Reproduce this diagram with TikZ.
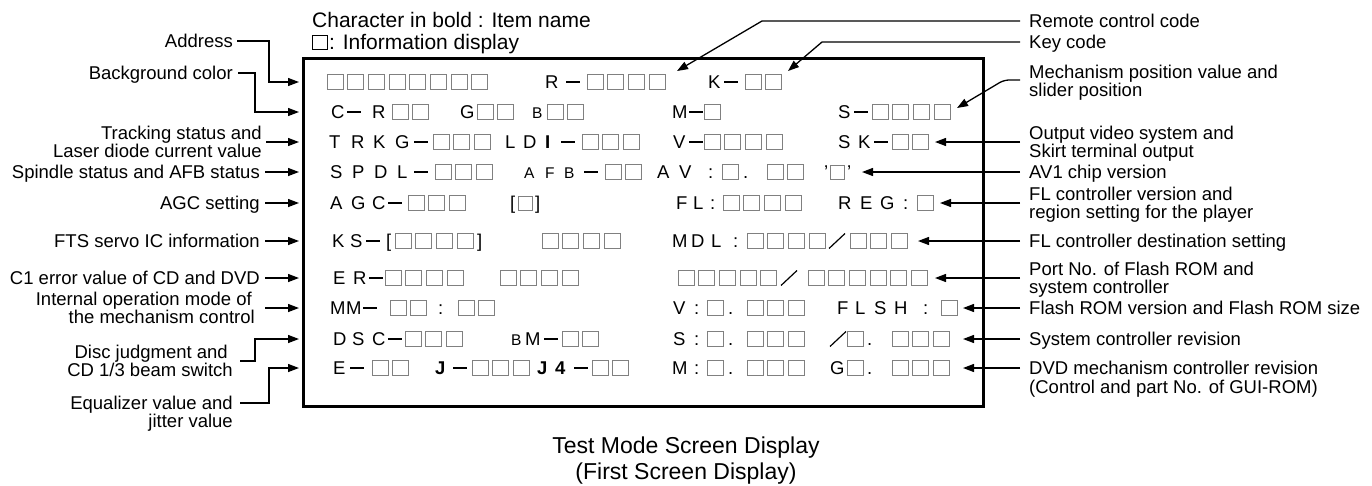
\documentclass[tikz,border=0pt]{standalone}
\usepackage{fontspec}
\setmainfont{Liberation Sans}
\usetikzlibrary{arrows.meta}
\definecolor{sqgray}{gray}{0.5}
\newcount\tkn
\newcommand\scrT[4][scr]{\global\advance\tkn by 1\relax\node[#1] (tk\the\tkn) at (#2,{#3+6.6}) {#4};}
\newcommand\scrQ[3]{\foreach \k in {1,...,#3}{\draw[sqst] ({#1+(\k-1)*20.7},{#2-7.5}) rectangle ++(16,15);}}
\newcommand\scrQs[2]{\draw[sqst] ({#1},{#2-7}) rectangle ++(14,14);}
\newcommand\scrD[2]{\fill ({#1},{#2-1}) rectangle ++(14,2);}
\newcommand\scrS[2]{\draw[line width=1.2pt] ({#1},{#2+7.5}) -- ++(16,-15);}
\begin{document}
\begin{tikzpicture}[x=1pt,y=-1pt,
  scr/.style={font=\fontsize{18.5}{20}\selectfont,inner sep=0pt,anchor=base west},
  scrs/.style={scr,font=\fontsize{15.5}{17}\selectfont},
  scrb/.style={scr,font=\fontsize{18.5}{20}\selectfont\bfseries},
  sqst/.style={draw=sqgray,line width=1pt},
  lab/.style={font=\fontsize{18.5}{18}\selectfont,inner sep=0pt},
  labl/.style={lab,anchor=base east},
  labr/.style={lab,anchor=base west},
  arr/.style={line width=1.3pt,-{Triangle[length=11pt,width=8pt]}},
]
\useasboundingbox (0,0) rectangle (1372,485);

% header
\node[font=\fontsize{21}{22}\selectfont,inner sep=0pt,anchor=base west] (h1) at (312,27.5) {Character in bold : Item name};
\draw[line width=0.9pt] (312,35) rectangle (327,49);
\node[font=\fontsize{21}{22}\selectfont,inner sep=0pt,anchor=base west] (h2) at (329,49.5) {: Information display};

% screen box
\node[draw,line width=3pt,minimum width=680pt,minimum height=348pt,anchor=north west,inner sep=0pt] (screen) at (302,57) {};

% left targets
\foreach \n/\yy in {1/82,2/112,3/142,4/172,5/203,6/241,7/278,8/308,9/339,10/368}
  \coordinate (L\n) at (299,\yy);

% ---- screen rows ----
% row 1
\scrQ{327}{82}{8}
\scrT{545}{82}{R} \scrD{566}{82} \scrQ{587}{82}{4}
\scrT{708}{82}{K} \scrD{724}{82} \scrQ{745}{82}{2}
% row 2
\scrT{331}{112}{C} \scrD{347}{112} \scrT{372}{112}{R} \scrQ{392}{112}{2}
\scrT{460}{112}{G} \scrQ{477}{112}{2}
\scrT[scrs]{532}{112}{B} \scrQ{547}{112}{2}
\scrT{672}{112}{M} \scrD{689}{112} \scrQ{704}{112}{1}
\scrT{838}{112}{S} \scrD{854}{112} \scrQ{872}{112}{4}
% row 3
\scrT{329}{142}{T} \scrT{351}{142}{R} \scrT{373}{142}{K} \scrT{395}{142}{G}
\scrD{414}{142} \scrQ{433}{142}{3}
\scrT{505}{142}{L} \scrT{523}{142}{D} \scrT[scrb]{545}{142}{I}
\scrD{561}{142} \scrQ{582}{142}{3}
\scrT{673}{142}{V} \scrD{689}{142} \scrQ{704}{142}{4}
\scrT{838}{142}{S} \scrT{858}{142}{K} \scrD{874}{142} \scrQ{892}{142}{2}
% row 4
\scrT{330}{172}{S} \scrT{352}{172}{P} \scrT{374}{172}{D} \scrT{397}{172}{L}
\scrD{414}{172} \scrQ{435}{172}{3}
\scrT[scrs]{524}{172}{A} \scrT[scrs]{545}{172}{F} \scrT[scrs]{564}{172}{B}
\scrD{584}{172} \scrQ{605}{172}{2}
\scrT{657}{172}{A} \scrT{679}{172}{V} \scrT{708}{172}{:} \scrQ{722}{172}{1}
\scrT{743}{172}{.} \scrQ{767}{172}{2}
\scrT{824}{172}{\textquoteright} \scrQs{830}{172} \scrT{847}{172}{\textquoteright}
% row 5
\scrT{330}{203}{A} \scrT{351}{203}{G} \scrT{372}{203}{C}
\scrD{388}{203} \scrQ{408}{203}{3}
\scrT{510}{203}{[} \scrQs{518}{203} \scrT{535}{203}{]}
\scrT{676}{203}{F} \scrT{693}{203}{L} \scrT{710}{203}{:} \scrQ{723}{203}{4}
\scrT{838}{203}{R} \scrT{860}{203}{E} \scrT{880}{203}{G} \scrT{903}{203}{:} \scrQ{917}{203}{1}
% row 6
\scrT{332}{241}{K} \scrT{350}{241}{S} \scrD{366}{241}
\scrT{386}{241}{[} \scrQ{395}{241}{4} \scrT{477}{241}{]}
\scrQ{542}{241}{4}
\scrT{672}{241}{M} \scrT{691}{241}{D} \scrT{711}{241}{L} \scrT{733}{241}{:}
\scrQ{747}{241}{4} \scrS{829}{241} \scrQ{850}{241}{3}
% row 7
\scrT{333}{278}{E} \scrT{353}{278}{R} \scrD{369}{278} \scrQ{385}{278}{4}
\scrQ{500}{278}{4}
\scrQ{678}{278}{5} \scrS{781}{278} \scrQ{808}{278}{6}
% row 8
\scrT{330}{308}{M} \scrT{346}{308}{M} \scrD{363}{308} \scrQ{390}{308}{2}
\scrT{438}{308}{:} \scrQ{458}{308}{2}
\scrT{673}{308}{V} \scrT{694}{308}{:} \scrQ{707}{308}{1} \scrT{728}{308}{.} \scrQ{747}{308}{3}
\scrT{837}{308}{F} \scrT{855}{308}{L} \scrT{874}{308}{S} \scrT{894}{308}{H}
\scrT{923}{308}{:} \scrQ{941}{308}{1}
% row 9
\scrT{333}{339}{D} \scrT{352}{339}{S} \scrT{372}{339}{C} \scrD{388}{339} \scrQ{405}{339}{3}
\scrT[scrs]{511}{339}{B} \scrT{525}{339}{M} \scrD{544}{339} \scrQ{562}{339}{2}
\scrT{673}{339}{S} \scrT{694}{339}{:} \scrQ{707}{339}{1} \scrT{728}{339}{.} \scrQ{747}{339}{3}
\scrS{830}{339} \scrQ{847}{339}{1} \scrT{867}{339}{.} \scrQ{892}{339}{3}
% row 10
\scrT{333}{368}{E} \scrD{350}{368} \scrQ{372}{368}{2}
\scrT[scrb]{435}{368}{J} \scrD{453}{368} \scrQ{472}{368}{3}
\scrT[scrb]{537}{368}{J} \scrT[scrb]{555}{368}{4} \scrD{574}{368} \scrQ{592}{368}{2}
\scrT{672}{368}{M} \scrT{694}{368}{:} \scrQ{707}{368}{1} \scrT{728}{368}{.} \scrQ{747}{368}{3}
\scrT{830}{368}{G} \scrQ{847}{368}{1} \scrT{867}{368}{.} \scrQ{892}{368}{3}

% ---- left labels ----
\node[labl] (addr) at (233,47.6) {Address};
\node[labl] (bg) at (233,79.6) {Background color};
\node[labl] (trk1) at (262,139.6) {Tracking status and};
\node[labl] (trk2) at (262,157.6) {Laser diode current value};
\node[labl] (spd) at (260,178.6) {Spindle status and AFB status};
\node[labl] (agc) at (260,209.6) {AGC setting};
\node[labl] (fts) at (260,247.6) {FTS servo IC information};
\node[labl] (cone) at (260,284.6) {C1 error value of CD and DVD};
\node[labl] (mm1) at (252,305.6) {Internal operation mode of};
\node[labl] (mm2) at (255,323.6) {the mechanism control};
\node[labl] (dsc1) at (228,358.6) {Disc judgment and};
\node[labl] (dsc2) at (233,376.6) {CD 1/3 beam switch};
\node[labl] (eq1) at (233,409.6) {Equalizer value and};
\node[labl] (eq2) at (233,427.6) {jitter value};

\draw[arr] (addr.base east) ++(4,-6.6) -| ([xshift=-30pt]L1) -- (L1);
\draw[arr] (bg.base east) ++(5,-6.6) -| ([xshift=-44pt]L2) -- (L2);
\draw[arr] (trk1.base east) ++(4,2.4) -- (L3);
\draw[arr] (spd.base east) ++(5,-6.6) -- (L4);
\draw[arr] (agc.base east) ++(5,-6.6) -- (L5);
\draw[arr] (fts.base east) ++(5,-6.6) -- (L6);
\draw[arr] (cone.base east) ++(5,-6.6) -- (L7);
\draw[arr] (mm1.base east) ++(13,2.4) -- (L8);
\draw[arr] (dsc1.base east) ++(12,2.4) -| ([xshift=-44pt]L9) -- (L9);
\draw[arr] (eq1.base east) ++(7,-6.6) -| ([xshift=-30pt]L10) -- (L10);

% ---- right labels ----
\node[labr] (rc) at (1029,27.6) {Remote control code};
\node[labr] (kc) at (1029,48.6) {Key code};
\node[labr] (mech1) at (1029,78.6) {Mechanism position value and};
\node[labr] (mech2) at (1029,96.6) {slider position};
\node[labr] (out1) at (1029,139.6) {Output video system and};
\node[labr] (out2) at (1029,157.6) {Skirt terminal output};
\node[labr] (av) at (1029,178.6) {AV1 chip version};
\node[labr] (flv1) at (1029,200.6) {FL controller version and};
\node[labr] (flv2) at (1029,218.6) {region setting for the player};
\node[labr] (fld) at (1029,247.6) {FL controller destination setting};
\node[labr] (port1) at (1029,275.6) {Port No. of Flash ROM and};
\node[labr] (port2) at (1029,293.6) {system controller};
\node[labr] (flash) at (1029,314.6) {Flash ROM version and Flash ROM size};
\node[labr] (sys) at (1029,345.6) {System controller revision};
\node[labr] (dvd1) at (1029,374.6) {DVD mechanism controller revision};
\node[labr] (dvd2) at (1029,393.6) {(Control and part No. of GUI-ROM)};

\coordinate (tRC) at (677,71);
\coordinate (tKC) at (788,71);
\coordinate (tMech) at (957,108);
\coordinate (tOut) at (935,142);
\coordinate (tAV) at (862,172);
\coordinate (tFLV) at (940,203);
\coordinate (tFLD) at (918,241);
\coordinate (tPort) at (935,278);
\coordinate (tFlash) at (963,308);
\coordinate (tSys) at (963,339);
\coordinate (tDVD) at (963,368);

\draw[arr] (rc.base west) ++(-9,-6.6) -- ++(-258,0) -- (tRC);
\draw[arr] (kc.base west) ++(-9,-6.6) -- ++(-198,0) -- (tKC);
\draw[arr,rounded corners=5pt] (mech1.base west) ++(-9,1.4) -- ++(-16,0) -- (tMech);
\draw[arr] (out1.base west) ++(-9,2.4) -- (tOut);
\draw[arr] (av.base west) ++(-9,-6.6) -- (tAV);
\draw[arr] (flv1.base west) ++(-9,2.4) -- (tFLV);
\draw[arr] (fld.base west) ++(-9,-6.6) -- (tFLD);
\draw[arr] (port1.base west) ++(-9,2.4) -- (tPort);
\draw[arr] (flash.base west) ++(-9,-6.6) -- (tFlash);
\draw[arr] (sys.base west) ++(-9,-6.6) -- (tSys);
\draw[arr] (dvd1.base west) ++(-9,-6.6) -- (tDVD);

% caption
\node[font=\fontsize{23}{26}\selectfont,inner sep=0pt,anchor=base] (cap1) at (686,453.2) {Test Mode Screen Display};
\node[font=\fontsize{23}{26}\selectfont,inner sep=0pt,anchor=base] (cap2) at (686,479.2) {(First Screen Display)};
\end{tikzpicture}
\end{document}
